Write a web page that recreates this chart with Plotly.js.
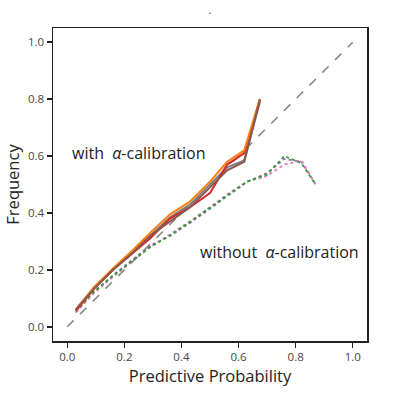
<!DOCTYPE html>
<html>
<head>
<meta charset="utf-8">
<script src="https://cdn.plot.ly/plotly-3.0.1.min.js"></script>
<style>
  html, body { margin: 0; padding: 0; background: #fff; }
  #plot { width: 393px; height: 393px; }
</style>
</head>
<body>
<div id="plot"></div>
<script>
// reliability curves, binned predictive probability vs observed frequency
var diagX = [0, 1];
var diagY = [0, 1];

var xWith = [0.03, 0.095, 0.16, 0.23, 0.29, 0.36, 0.43, 0.50, 0.56, 0.62, 0.675];
var withOrange = [0.06, 0.14, 0.205, 0.27, 0.33, 0.395, 0.44, 0.51, 0.58, 0.62, 0.80];
var withRed    = [0.055, 0.135, 0.20, 0.26, 0.31, 0.38, 0.42, 0.47, 0.57, 0.61, 0.80];
var withGray   = [0.06, 0.14, 0.20, 0.265, 0.32, 0.385, 0.43, 0.50, 0.56, 0.585, 0.79];
var withBrown  = [0.06, 0.135, 0.20, 0.26, 0.32, 0.37, 0.42, 0.49, 0.55, 0.58, 0.80];

var xWithout = [0.03, 0.09, 0.16, 0.23, 0.29, 0.36, 0.43, 0.50, 0.56, 0.63, 0.70, 0.76, 0.82, 0.87];
var withoutGreen  = [0.055, 0.12, 0.18, 0.235, 0.28, 0.32, 0.37, 0.42, 0.46, 0.51, 0.535, 0.60, 0.575, 0.50];
var withoutPink   = [0.05, 0.115, 0.175, 0.23, 0.28, 0.325, 0.37, 0.42, 0.465, 0.51, 0.53, 0.57, 0.585, 0.50];
var withoutPurple = [0.055, 0.12, 0.18, 0.235, 0.285, 0.32, 0.365, 0.415, 0.46, 0.51, 0.54, 0.59, 0.58, 0.50];

var ticks = [0, 0.2, 0.4, 0.6, 0.8, 1.0];

function solid(y, color) {
  return {x: xWith, y: y, mode: 'lines', line: {color: color, width: 2}, hoverinfo: 'skip'};
}
function dotted(y, color) {
  return {x: xWithout, y: y, mode: 'lines', line: {color: color, width: 1.8, dash: 'dot'}, hoverinfo: 'skip'};
}

var data = [
  {x: diagX, y: diagY, mode: 'lines', line: {color: '#888888', width: 1.6, dash: 'dash'}},
  dotted(withoutPurple, '#9467bd'),
  dotted(withoutPink, '#e377c2'),
  dotted(withoutGreen, '#2ca02c'),
  solid(withGray, '#7f7f7f'),
  solid(withRed, '#d62728'),
  solid(withOrange, '#ff7f0e'),
  solid(withBrown, '#8c564b')
];

var font = '"Open Sans", "Noto Sans", sans-serif';

var axisBase = {
  range: [-0.05, 1.05],
  tickvals: ticks,
  tickformat: '.1f',
  ticks: 'outside',
  ticklen: 5,
  tickwidth: 1.5,
  tickcolor: '#222',
  showline: true,
  linecolor: '#222',
  linewidth: 1.5,
  mirror: true,
  showgrid: false,
  zeroline: false,
  tickfont: {size: 11.5, color: '#444'}
};

var layout = {
  width: 393,
  height: 393,
  margin: {l: 53, r: 26, t: 28, b: 52},
  showlegend: false,
  paper_bgcolor: '#fff',
  plot_bgcolor: '#fff',
  font: {family: font, color: '#222'},
  title: {text: '.', font: {size: 11}, x: 0.534, xanchor: 'center', y: 0.985, yanchor: 'top'},
  xaxis: Object.assign({}, axisBase, {title: {text: 'Predictive Probability', font: {size: 16.5}, standoff: 2}}),
  yaxis: Object.assign({}, axisBase, {title: {text: 'Frequency', font: {size: 16.5}, standoff: 4}}),
  annotations: [
    {x: 0.25, y: 0.61, xref: 'x', yref: 'y', text: 'with  <i>α</i>-calibration', showarrow: false, font: {size: 16, color: '#222'}},
    {x: 0.745, y: 0.264, xref: 'x', yref: 'y', text: 'without  <i>α</i>-calibration', showarrow: false, font: {size: 16, color: '#222'}}
  ]
};

Plotly.newPlot('plot', data, layout, {displayModeBar: false, staticPlot: true});
</script>
</body>
</html>
